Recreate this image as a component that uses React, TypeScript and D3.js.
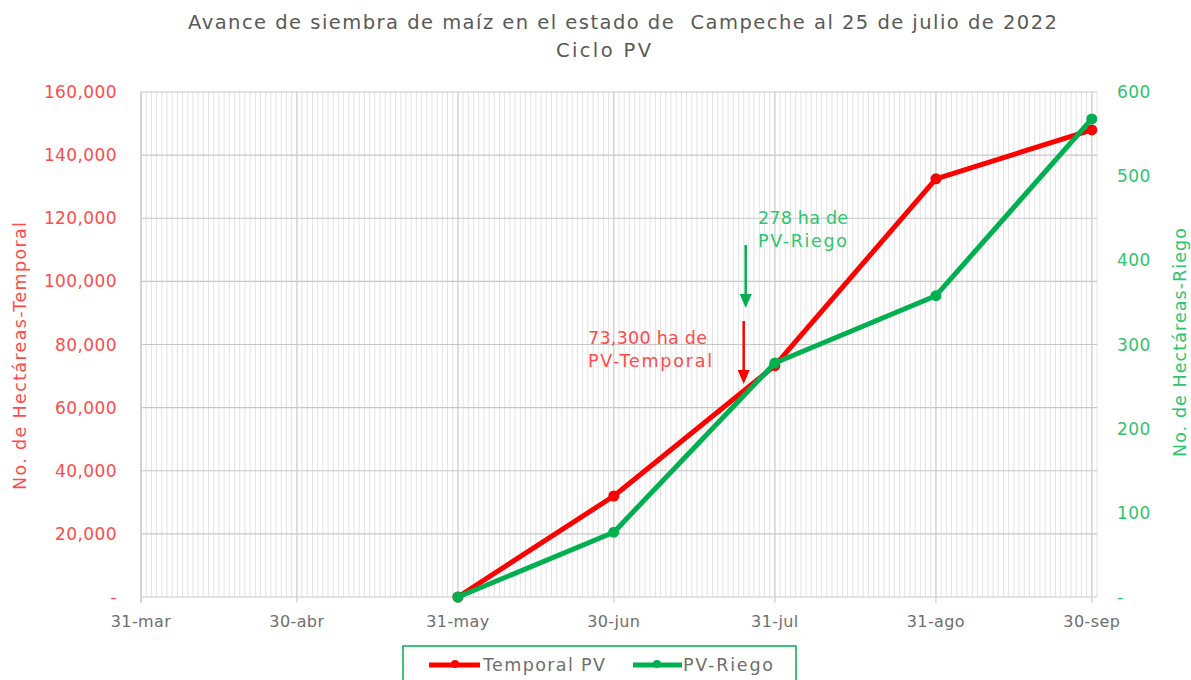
import React from 'react';
import * as d3 from 'd3';

// fechas del eje X (etiquetas principales)
const tickDates = ['2022-03-31', '2022-04-30', '2022-05-31', '2022-06-30', '2022-07-31', '2022-08-31', '2022-09-30'];
const tickLabels = ['31-mar', '30-abr', '31-may', '30-jun', '31-jul', '31-ago', '30-sep'];

// series
const pointDates = ['2022-05-31', '2022-06-30', '2022-07-31', '2022-08-31', '2022-09-30'];
const temporal = [0, 32000, 73300, 132500, 148000];
const riego = [0, 77, 278, 358, 568];

const leftTicks = [0, 20000, 40000, 60000, 80000, 100000, 120000, 140000, 160000];
const rightTicks = [0, 100, 200, 300, 400, 500, 600];

const parse = d3.timeParse('%Y-%m-%d');

const W = 1191;
const H = 680;
const m = { left: 141, right: 1097, top: 92, bottom: 597 };

const RED = '#ff0000';
const GREEN = '#00b050';
const RED_TXT = '#ff4b4b';
const GREEN_TXT = '#2fc46e';
const FONT = "'DejaVu Sans', 'Open Sans', sans-serif";

export default function App() {
  const x = d3.scaleTime()
    .domain([parse('2022-03-31') as Date, parse('2022-10-01') as Date])
    .range([m.left, m.right]);
  const yL = d3.scaleLinear().domain([0, 160000]).range([m.bottom, m.top]);
  const yR = d3.scaleLinear().domain([0, 600]).range([m.bottom, m.top]);

  const days = d3.timeDay.range(x.domain()[0], d3.timeDay.offset(x.domain()[1], 1));
  const majors = tickDates.map(d => parse(d) as Date);
  const pts = pointDates.map(d => parse(d) as Date);

  const lineL = d3.line<number>().x((_, i) => x(pts[i])).y(d => yL(d));
  const lineR = d3.line<number>().x((_, i) => x(pts[i])).y(d => yR(d));

  const fmt = (v: number) => (v === 0 ? '-' : d3.format(',')(v));

  // flechas: unos dias antes del 31-jul
  const annX = x(d3.timeDay.offset(parse('2022-07-31') as Date, -6));

  return (
    <svg width={W} height={H} style={{ position: 'absolute', left: 0, top: 0, background: '#fff' }} fontFamily={FONT}>
      <text x={188} y={29} fontSize={19.5} textLength={869} lengthAdjust="spacing" fill="#595959" style={{ whiteSpace: 'pre' }}>
        {'Avance de siembra de maíz en el estado de  Campeche al 25 de julio de 2022'}
      </text>
      <text x={556} y={57} fontSize={19.5} textLength={95} lengthAdjust="spacing" fill="#595959">Ciclo PV</text>

      {/* rejilla diaria */}
      {days.map((d, i) => (
        <line key={'d' + i} x1={x(d)} x2={x(d)} y1={m.top} y2={m.bottom} stroke="#e3e3e3" strokeWidth={1} />
      ))}
      {majors.map((d, i) => (
        <line key={'M' + i} x1={x(d)} x2={x(d)} y1={m.top} y2={m.bottom + 6} stroke="#d0d0d0" strokeWidth={1.2} />
      ))}
      {leftTicks.map((t, i) => (
        <line key={'h' + i} x1={m.left} x2={m.right} y1={yL(t)} y2={yL(t)} stroke="#c8c8c8" strokeWidth={1.2} />
      ))}
      <line x1={m.left} x2={m.left} y1={m.top} y2={m.bottom + 6} stroke="#d0d0d0" strokeWidth={1.5} />

      {/* eje izquierdo */}
      {leftTicks.map((t, i) => (
        <text key={'lt' + i} x={117} y={yL(t) + 6} textAnchor="end" fontSize={17} letterSpacing={0.4} fill={RED_TXT}>{fmt(t)}</text>
      ))}
      <text transform={`translate(26,490) rotate(-90)`} fontSize={17.5} textLength={268} lengthAdjust="spacing" fill={RED_TXT}>
        No. de Hectáreas-Temporal
      </text>

      {/* eje derecho */}
      {rightTicks.map((t, i) => (
        <text key={'rt' + i} x={1117} y={yR(t) + 6} textAnchor="start" fontSize={17} letterSpacing={0.4} fill={GREEN_TXT}>{fmt(t)}</text>
      ))}
      <text transform={`translate(1186,457) rotate(-90)`} fontSize={17.5} textLength={229} lengthAdjust="spacing" fill={GREEN_TXT}>
        No. de Hectáreas-Riego
      </text>

      {/* eje X */}
      {majors.map((d, i) => (
        <text key={'xt' + i} x={x(d)} y={627} textAnchor="middle" fontSize={16} letterSpacing={0.4} fill="#6e6e6e">{tickLabels[i]}</text>
      ))}

      {/* series */}
      <path d={lineL(temporal) as string} fill="none" stroke={RED} strokeWidth={5} strokeLinejoin="round" />
      {temporal.map((v, i) => (
        <circle key={'cr' + i} cx={x(pts[i])} cy={yL(v)} r={5.5} fill={RED} />
      ))}
      <path d={lineR(riego) as string} fill="none" stroke={GREEN} strokeWidth={5} strokeLinejoin="round" />
      {riego.map((v, i) => (
        <circle key={'cg' + i} cx={x(pts[i])} cy={yR(v)} r={5.5} fill={GREEN} />
      ))}

      {/* anotaciones */}
      <text x={758} y={224} fontSize={17.5} textLength={90} lengthAdjust="spacing" fill={GREEN_TXT}>278 ha de</text>
      <text x={758} y={247} fontSize={17.5} textLength={89} lengthAdjust="spacing" fill={GREEN_TXT}>PV-Riego</text>
      <line x1={annX + 2} x2={annX + 2} y1={245} y2={300} stroke={GREEN} strokeWidth={2.5} />
      <path d={`M${annX + 2 - 6},${294} L${annX + 2 + 6},${294} L${annX + 2},${308} Z`} fill={GREEN} />

      <text x={588} y={344} fontSize={17.5} textLength={119} lengthAdjust="spacing" fill={RED_TXT}>73,300 ha de</text>
      <text x={588} y={367} fontSize={17.5} textLength={124} lengthAdjust="spacing" fill={RED_TXT}>PV-Temporal</text>
      <line x1={annX} x2={annX} y1={321} y2={375} stroke={RED} strokeWidth={2.5} />
      <path d={`M${annX - 6},${370} L${annX + 6},${370} L${annX},${384} Z`} fill={RED} />

      {/* leyenda */}
      <rect x={403} y={646} width={393} height={45} fill="#fff" stroke={GREEN} strokeWidth={1.5} />
      <line x1={429} x2={480} y1={665} y2={665} stroke={RED} strokeWidth={5} />
      <circle cx={455} cy={664} r={4} fill={RED} />
      <text x={483} y={671} fontSize={17.5} textLength={122} lengthAdjust="spacing" fill="#6e6e6e">Temporal PV</text>
      <line x1={633} x2={682} y1={665} y2={665} stroke={GREEN} strokeWidth={5} />
      <circle cx={657} cy={664} r={4} fill={GREEN} />
      <text x={683} y={671} fontSize={17.5} textLength={90} lengthAdjust="spacing" fill="#6e6e6e">PV-Riego</text>
    </svg>
  );
}
